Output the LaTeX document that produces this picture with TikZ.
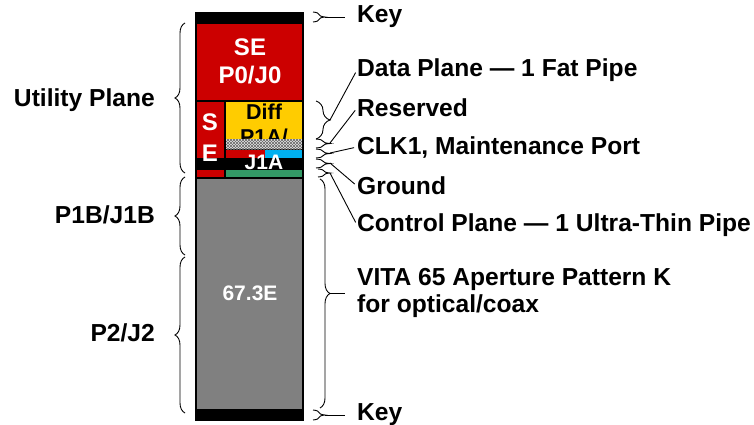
\documentclass[tikz,border=0pt]{standalone}
\usepackage{fontspec}
\setmainfont{Liberation Sans}
\usetikzlibrary{decorations.pathreplacing,patterns}
\definecolor{sered}{RGB}{204,0,0}
\definecolor{diffyellow}{RGB}{255,204,0}
\definecolor{clkblue}{RGB}{0,176,240}
\definecolor{ctlgreen}{RGB}{51,153,102}
\definecolor{slotgray}{RGB}{128,128,128}

\begin{document}
\begin{tikzpicture}[x=1pt,y=-1pt,
    lbl/.style={font=\fontsize{24.6}{27}\selectfont\bfseries, inner sep=0pt},
    inlbl/.style={font=\fontsize{21}{24}\selectfont\bfseries, text=white, inner sep=0pt, align=center},
    brc/.style={decorate, decoration={brace, amplitude=#1}, line width=0.9pt},
    brc/.default=10pt]

\useasboundingbox (0,0) rectangle (754,425);

% slot column
\fill[black] (195,12) rectangle (304,421);
\fill[sered] (197,24) rectangle (302,100);
\fill[sered] (197,102) rectangle (224,158);
\fill[diffyellow] (226,102) rectangle (302,139);
\fill[sered] (226,150) rectangle (265,158);
\fill[clkblue] (265,150) rectangle (302,158);
\fill[sered] (197,170) rectangle (224,177);
\fill[ctlgreen] (226,170) rectangle (302,177);
\fill[slotgray] (197,179) rectangle (302,409);

\node[inlbl, text=black, font=\fontsize{21.5}{25}\selectfont\bfseries] (diff) at (264,124) {Diff\\P1A/};
\fill[gray!20] (226,139) rectangle (302,149);
\fill[pattern=north east lines, pattern color=gray!80!black] (226,139) rectangle (302,149);
\fill[pattern=north west lines, pattern color=gray!80!black] (226,139) rectangle (302,149);

\node[inlbl, font=\fontsize{24}{28}\selectfont\bfseries] (se0) at (250,61) {SE\\P0/J0};
\node[inlbl, font=\fontsize{24}{31}\selectfont\bfseries] (se1) at (210,138) {S\\E};
\node[inlbl] (j1a) at (264,162.5) {J1A};
\node[inlbl] (aper) at (250,293) {67.3E};

% left side
\draw[brc] (185,173) -- (185,23);
\draw[brc] (185,255) -- (185,177);
\draw[brc] (185,413) -- (185,257);
\node[lbl, anchor=east] (util) at (155,100) {Utility Plane};
\node[lbl, anchor=east] (pjb) at (155,215) {P1B/J1B};
\node[lbl, anchor=east] (ptwo) at (155,333) {P2/J2};

% right side
\draw[brc=12pt] (313,12) -- (313,22);
\draw[brc=14pt] (316,101) -- (316,139);
\draw[brc=14pt] (316,139) -- (316,148);
\draw[brc=14pt] (316,149) -- (316,158);
\draw[brc=14pt] (316,159) -- (316,168);
\draw[brc=12pt] (318,169) -- (318,177);
\draw[brc] (320,179) -- (320,408);
\draw[brc=12pt] (313,410) -- (313,420);

\coordinate (tkey1) at (325,17);
\coordinate (tdata) at (330,120);
\coordinate (tresv) at (330,143);
\coordinate (tclk) at (330,153);
\coordinate (tgnd) at (330,163);
\coordinate (tctrl) at (330,173);
\coordinate (tvita) at (330,293);
\coordinate (tkey2) at (325,415);

\node[lbl, anchor=west] (key1) at (357,17) {Key};
\node[lbl, anchor=west] (data) at (357,70) {Data Plane — 1 Fat Pipe};
\node[lbl, anchor=west] (resv) at (357,108) {Reserved};
\node[lbl, anchor=west] (clk) at (357,147) {CLK1, Maintenance Port};
\node[lbl, anchor=west] (gnd) at (357,186) {Ground};
\node[lbl, anchor=west] (ctrl) at (357,225) {Control Plane — 1 Ultra-Thin Pipe};
\node[lbl, anchor=west, align=left] (vita) at (357,293) {VITA 65 Aperture Pattern K\\for optical/coax};
\node[lbl, anchor=west] (key2) at (357,415) {Key};

\draw[line width=0.9pt, shorten >=12pt] (tkey1) -- (key1.west);
\draw[line width=0.9pt, shorten >=3pt] (tdata) -- (data.west);
\draw[line width=0.9pt, shorten >=3pt] (tresv) -- (resv.west);
\draw[line width=0.9pt, shorten >=3pt] (tclk) -- (clk.west);
\draw[line width=0.9pt, shorten >=3pt] (tgnd) -- (gnd.west);
\draw[line width=0.9pt, shorten >=3pt] (tctrl) -- (ctrl.west);
\draw[line width=0.9pt, shorten >=12pt] (tvita) -- (vita.west);
\draw[line width=0.9pt, shorten >=12pt] (tkey2) -- (key2.west);

\end{tikzpicture}
\end{document}
